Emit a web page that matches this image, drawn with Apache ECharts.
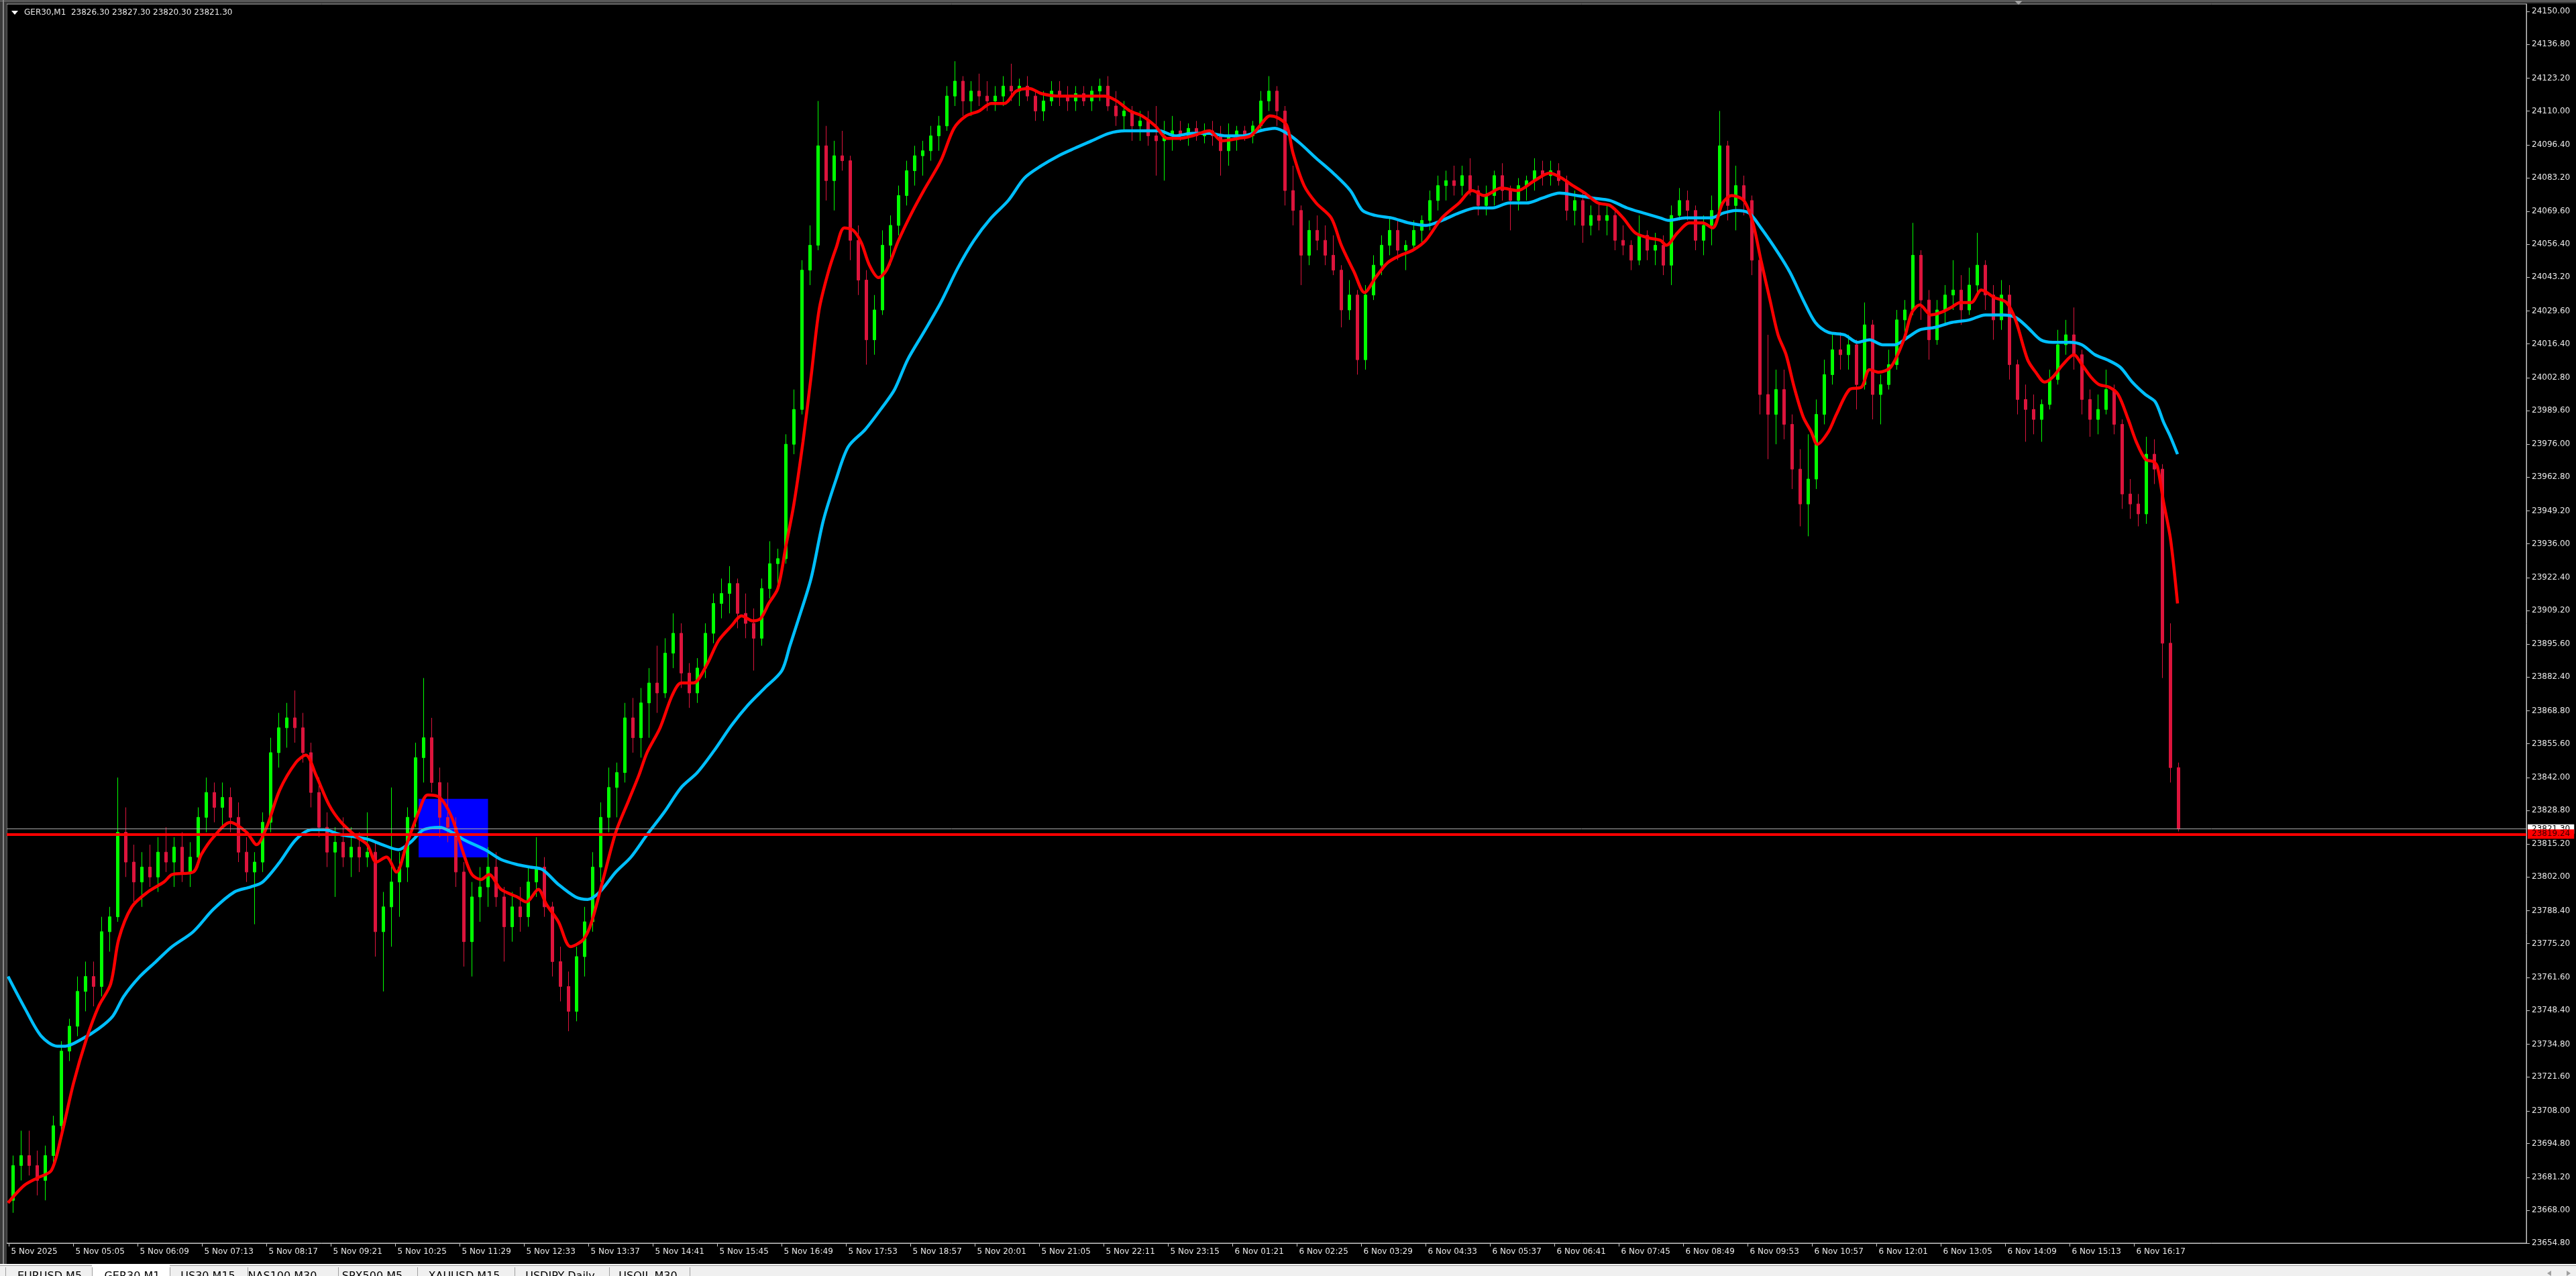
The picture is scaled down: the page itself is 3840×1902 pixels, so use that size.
<!DOCTYPE html>
<html><head><meta charset="utf-8">
<script src="https://cdn.jsdelivr.net/npm/echarts@6/dist/echarts.min.js"></script>
<style>html,body{margin:0;padding:0;background:#000;overflow:hidden}#c{width:3840px;height:1902px}</style>
</head><body><div id="c"></div>
<script>
// ---------------- DATA ----------------
const symbolName = 'GER30,M1';
const lastBar = [23826.30, 23827.30, 23820.30, 23821.30];
const timeLabels = ['5 Nov 2025','5 Nov 05:05','5 Nov 06:09','5 Nov 07:13','5 Nov 08:17','5 Nov 09:21','5 Nov 10:25','5 Nov 11:29','5 Nov 12:33','5 Nov 13:37','5 Nov 14:41','5 Nov 15:45','5 Nov 16:49','5 Nov 17:53','5 Nov 18:57','5 Nov 20:01','5 Nov 21:05','5 Nov 22:11','5 Nov 23:15','6 Nov 01:21','6 Nov 02:25','6 Nov 03:29','6 Nov 04:33','6 Nov 05:37','6 Nov 06:41','6 Nov 07:45','6 Nov 08:49','6 Nov 09:53','6 Nov 10:57','6 Nov 12:01','6 Nov 13:05','6 Nov 14:09','6 Nov 15:13','6 Nov 16:17'];
const barsPerTimeLabel = 64;
const yTickLabels = [24150.00,24136.80,24123.20,24110.00,24096.40,24083.20,24069.60,24056.40,24043.20,24029.60,24016.40,24002.80,23989.60,23976.00,23962.80,23949.20,23936.00,23922.40,23909.20,23895.60,23882.40,23868.80,23855.60,23842.00,23828.80,23815.20,23802.00,23788.40,23775.20,23761.60,23748.40,23734.80,23721.60,23708.00,23694.80,23681.20,23668.00,23654.80];
const barsPerCandle = 8;
// [open, high, low, close], one row per 8 one-minute bars
const candles = [
[23672,23690,23667,23686],[23686,23700,23680,23690],[23690,23700,23682,23686],[23686,23692,23674,23680],[23680,23694,23672,23690],[23690,23706,23686,23702],[23702,23736,23700,23732],[23732,23745,23728,23742],
[23742,23762,23738,23756],[23756,23768,23748,23762],[23762,23768,23750,23758],[23758,23786,23754,23780],[23780,23790,23772,23786],[23786,23842,23784,23820],[23820,23830,23802,23808],[23808,23815,23792,23800],
[23800,23812,23790,23806],[23806,23815,23798,23802],[23802,23818,23796,23812],[23812,23822,23804,23808],[23808,23818,23798,23814],[23814,23820,23800,23804],[23804,23816,23798,23810],[23810,23830,23806,23826],
[23826,23842,23820,23836],[23836,23840,23824,23830],[23830,23840,23822,23834],[23834,23838,23820,23826],[23826,23832,23808,23812],[23812,23818,23800,23804],[23804,23812,23783,23808],[23808,23828,23804,23824],
[23824,23858,23820,23852],[23852,23868,23846,23862],[23862,23872,23854,23866],[23866,23877,23856,23862],[23862,23868,23848,23852],[23852,23856,23830,23836],[23836,23842,23818,23822],[23822,23828,23806,23812],
[23812,23822,23794,23816],[23816,23826,23806,23810],[23810,23822,23802,23814],[23814,23820,23804,23810],[23810,23828,23806,23812],[23812,23816,23770,23780],[23780,23796,23756,23790],[23790,23838,23774,23800],
[23800,23812,23786,23806],[23806,23830,23800,23826],[23826,23856,23822,23850],[23850,23882,23840,23858],[23858,23866,23836,23840],[23840,23846,23818,23826],[23826,23840,23816,23822],[23822,23826,23798,23804],
[23804,23808,23766,23776],[23776,23800,23762,23794],[23794,23806,23784,23798],[23798,23814,23790,23806],[23806,23812,23790,23794],[23794,23798,23768,23782],[23782,23796,23776,23790],[23790,23798,23780,23786],
[23786,23806,23782,23800],[23800,23818,23794,23806],[23806,23810,23786,23790],[23790,23792,23762,23768],[23768,23774,23752,23758],[23758,23764,23740,23748],[23748,23774,23744,23770],[23770,23790,23762,23784],
[23784,23812,23780,23806],[23806,23832,23800,23826],[23826,23846,23820,23838],[23838,23848,23826,23844],[23844,23872,23840,23866],[23866,23874,23852,23858],[23858,23878,23850,23872],[23872,23886,23858,23880],
[23880,23895,23868,23876],[23876,23898,23874,23892],[23892,23908,23886,23900],[23900,23904,23878,23884],[23884,23888,23870,23876],[23876,23890,23872,23886],[23886,23904,23882,23900],[23900,23916,23896,23912],
[23912,23922,23906,23916],[23916,23927,23908,23920],[23920,23922,23902,23908],[23908,23916,23898,23904],[23904,23910,23885,23898],[23898,23922,23895,23918],[23918,23937,23914,23928],[23928,23934,23918,23930],
[23930,23980,23928,23976],[23976,23998,23972,23990],[23990,24050,23988,24046],[24046,24064,24040,24056],[24056,24114,24054,24096],[24096,24104,24074,24082],[24082,24098,24070,24092],[24092,24102,24086,24090],
[24090,24092,24050,24058],[24058,24064,24036,24042],[24042,24046,24008,24018],[24018,24036,24012,24030],[24030,24062,24028,24056],[24056,24068,24048,24064],[24064,24080,24060,24076],[24076,24090,24072,24086],
[24086,24096,24080,24092],[24092,24098,24084,24094],[24094,24104,24090,24100],[24100,24108,24094,24104],[24104,24120,24102,24116],[24116,24130,24112,24122],[24122,24124,24108,24114],[24114,24122,24108,24118],
[24118,24125,24112,24116],[24116,24122,24110,24114],[24114,24120,24110,24116],[24116,24124,24112,24120],[24120,24129,24114,24118],[24118,24123,24112,24120],[24120,24124,24114,24116],[24116,24118,24106,24110],
[24110,24118,24106,24114],[24114,24122,24112,24118],[24118,24122,24112,24116],[24116,24120,24110,24114],[24114,24120,24110,24117],[24117,24120,24112,24114],[24114,24120,24110,24118],[24118,24123,24114,24120],
[24120,24124,24110,24112],[24112,24118,24104,24108],[24108,24114,24102,24110],[24110,24112,24098,24104],[24104,24110,24098,24106],[24106,24110,24096,24100],[24100,24112,24084,24098],[24098,24106,24082,24100],
[24100,24108,24094,24102],[24102,24106,24098,24100],[24100,24105,24096,24103],[24103,24106,24098,24100],[24100,24105,24097,24102],[24102,24106,24096,24100],[24100,24104,24084,24094],[24094,24105,24088,24100],
[24100,24104,24094,24102],[24102,24104,24098,24100],[24100,24106,24097,24104],[24104,24118,24102,24114],[24114,24124,24110,24118],[24118,24120,24104,24110],[24110,24112,24072,24078],[24078,24088,24064,24070],
[24070,24072,24040,24052],[24052,24066,24048,24062],[24062,24068,24054,24058],[24058,24064,24048,24052],[24052,24060,24044,24046],[24046,24048,24023,24030],[24030,24042,24026,24036],[24036,24038,24004,24010],
[24010,24040,24006,24036],[24036,24052,24034,24048],[24048,24060,24044,24056],[24056,24067,24052,24062],[24062,24066,24050,24054],[24054,24058,24046,24056],[24056,24066,24054,24062],[24062,24068,24056,24066],
[24066,24078,24062,24074],[24074,24084,24070,24080],[24080,24086,24074,24082],[24082,24088,24076,24080],[24080,24088,24076,24084],[24084,24091,24076,24078],[24078,24080,24068,24072],[24072,24080,24068,24076],
[24076,24086,24072,24084],[24084,24089,24074,24078],[24078,24080,24062,24074],[24074,24083,24070,24080],[24080,24084,24074,24082],[24082,24091,24078,24086],[24086,24090,24080,24084],[24084,24090,24080,24086],
[24086,24089,24080,24082],[24082,24084,24066,24070],[24070,24078,24064,24074],[24074,24077,24057,24064],[24064,24072,24060,24068],[24068,24073,24062,24066],[24066,24072,24060,24068],[24068,24070,24054,24058],
[24058,24064,24052,24056],[24056,24058,24046,24050],[24050,24068,24048,24060],[24060,24062,24050,24054],[24054,24061,24048,24056],[24056,24060,24044,24048],[24048,24072,24040,24068],[24068,24079,24066,24074],
[24074,24078,24066,24070],[24070,24072,24054,24058],[24058,24068,24052,24064],[24064,24076,24056,24070],[24070,24110,24068,24096],[24096,24098,24066,24072],[24072,24088,24062,24080],[24080,24084,24068,24074],
[24074,24076,24044,24050],[24050,24052,23988,23996],[23996,24020,23970,23988],[23988,24006,23976,23998],[23998,24006,23978,23984],[23984,23988,23958,23966],[23966,23974,23943,23952],[23952,23980,23939,23962],
[23962,23994,23958,23988],[23988,24010,23984,24004],[24004,24021,24000,24014],[24014,24021,24006,24012],[24012,24020,24006,24016],[24016,24018,23990,24000],[24000,24033,23998,24024],[24024,24026,23986,23996],
[23996,24004,23984,24000],[24000,24014,23998,24008],[24008,24030,24006,24026],[24026,24034,24020,24030],[24030,24065,24028,24052],[24052,24054,24026,24034],[24034,24038,24010,24018],[24018,24034,24016,24030],
[24030,24040,24024,24036],[24036,24050,24030,24038],[24038,24044,24024,24030],[24030,24047,24028,24040],[24040,24061,24036,24048],[24048,24050,24030,24036],[24036,24040,24018,24026],[24026,24042,24022,24036],
[24036,24040,24002,24008],[24008,24010,23988,23994],[23994,24000,23977,23990],[23990,23996,23980,23986],[23986,23994,23977,23992],[23992,24006,23990,24002],[24002,24022,24000,24016],[24016,24026,24012,24020],
[24020,24031,24006,24012],[24012,24014,23988,23994],[23994,23998,23979,23986],[23986,23996,23980,23990],[23990,24006,23988,23998],[23998,24000,23980,23984],[23984,23986,23950,23956],[23956,23962,23946,23952],
[23952,23956,23943,23948],[23948,23979,23944,23972],[23972,23978,23960,23966],[23966,23968,23882,23896],[23896,23904,23840,23846],[23846,23848,23820.3,23821.3]
];
const fastMA = [[-1,23671],[15,23678],[28,23681],[42,23684],[52,23698],[64,23719],[77,23737],[89,23750],[101,23759],[109,23777],[122,23790],[138,23796],[154,23800],[162,23803],[183,23804],[191,23811],[203,23818],[220,23824],[236,23820],[246,23815],[256,23822],[269,23837],[285,23848],[295,23851],[305,23843],[318,23831],[330,23824],[346,23818],[356,23815],[365,23808],[375,23810],[385,23804],[395,23815],[407,23828],[416,23835],[428,23834],[440,23826],[452,23811],[460,23803],[469,23801],[477,23803],[489,23797],[505,23794],[514,23792],[526,23797],[534,23791],[546,23784],[558,23774],[571,23777],[579,23784],[591,23802],[603,23820],[616,23833],[626,23843],[634,23852],[647,23862],[659,23875],[668,23880],[680,23880],[693,23887],[705,23897],[718,23903],[728,23907],[739,23905],[747,23906],[755,23912],[764,23918],[772,23935],[780,23952],[789,23977],[797,24003],[805,24030],[814,24045],[822,24055],[830,24063],[839,24062],[847,24057],[855,24048],[864,24043],[872,24046],[884,24058],[897,24069],[909,24078],[926,24090],[939,24103],[951,24108],[964,24110],[976,24113],[989,24113],[1001,24118],[1014,24119],[1026,24117],[1043,24116],[1068,24116],[1089,24116],[1101,24114],[1114,24110],[1126,24108],[1139,24104],[1151,24099],[1164,24099],[1176,24100],[1193,24102],[1205,24098],[1222,24099],[1234,24100],[1243,24104],[1253,24108],[1262,24107],[1270,24104],[1276,24093],[1287,24080],[1299,24073],[1314,24067],[1324,24056],[1337,24045],[1347,24037],[1358,24043],[1370,24049],[1383,24052],[1395,24054],[1408,24058],[1424,24067],[1441,24073],[1454,24078],[1466,24076],[1483,24079],[1499,24078],[1516,24082],[1531,24085],[1543,24083],[1554,24080],[1566,24077],[1579,24073],[1591,24072],[1604,24067],[1616,24061],[1629,24059],[1641,24058],[1647,24056],[1658,24061],[1670,24065],[1683,24065],[1693,24063],[1703,24073],[1712,24076],[1724,24074],[1733,24065],[1741,24050],[1750,24034],[1758,24020],[1766,24012],[1774,23999],[1783,23987],[1791,23981],[1797,23976],[1808,23981],[1816,23988],[1829,23998],[1841,23999],[1849,24006],[1858,24005],[1870,24007],[1883,24018],[1891,24029],[1899,24032],[1910,24028],[1920,24029],[1930,24031],[1939,24033],[1950,24033],[1960,24038],[1973,24035],[1985,24033],[1994,24026],[2006,24010],[2014,24005],[2023,24001],[2031,24003],[2041,24008],[2052,24012],[2060,24008],[2069,24003],[2077,24000],[2087,23999],[2096,23996],[2106,23986],[2114,23977],[2123,23970],[2131,23969],[2135,23967],[2141,23953],[2148,23938],[2155,23912]];
const slowMA = [[-1,23762],[16,23749],[32,23738],[48,23734],[56,23734],[73,23737],[89,23741],[103,23746],[114,23754],[130,23762],[146,23768],[162,23774],[183,23780],[203,23789],[224,23796],[240,23798],[252,23800],[269,23808],[285,23817],[301,23821],[313,23821],[330,23819],[346,23818],[358,23817],[371,23815],[387,23813],[399,23816],[412,23821],[428,23822],[440,23820],[452,23817],[473,23813],[489,23809],[505,23807],[518,23806],[530,23805],[546,23799],[563,23794],[575,23793],[587,23796],[603,23804],[618,23810],[634,23819],[651,23828],[668,23838],[684,23844],[701,23853],[718,23863],[734,23871],[751,23878],[768,23885],[776,23895],[784,23905],[797,23922],[809,23945],[822,23962],[834,23975],[851,23982],[868,23991],[880,23998],[893,24010],[909,24021],[926,24033],[943,24047],[959,24058],[976,24067],[993,24074],[1009,24083],[1026,24088],[1043,24092],[1059,24095],[1076,24098],[1093,24101],[1109,24102],[1126,24102],[1143,24102],[1159,24100],[1176,24101],[1193,24101],[1209,24100],[1226,24100],[1243,24102],[1258,24103],[1270,24101],[1283,24097],[1299,24091],[1316,24085],[1333,24078],[1345,24070],[1358,24068],[1374,24067],[1391,24065],[1408,24064],[1424,24066],[1441,24069],[1458,24071],[1474,24071],[1491,24073],[1508,24073],[1524,24075],[1541,24077],[1558,24076],[1574,24075],[1591,24074],[1608,24071],[1624,24069],[1641,24067],[1649,24066],[1666,24067],[1691,24067],[1704,24069],[1716,24070],[1729,24069],[1741,24063],[1758,24053],[1770,24045],[1783,24034],[1795,24025],[1808,24021],[1824,24020],[1837,24017],[1849,24018],[1862,24016],[1874,24016],[1887,24019],[1899,24022],[1914,24023],[1931,24025],[1948,24026],[1964,24028],[1981,24028],[1994,24027],[2006,24023],[2019,24018],[2031,24017],[2048,24017],[2060,24016],[2073,24012],[2085,24010],[2098,24007],[2110,24001],[2123,23996],[2133,23993],[2141,23985],[2148,23979],[2155,23972]];
const bidPrice = 23821.30;
const hLinePrice = 23819.24;
const boxBars = [407, 476];
const boxPrices = [23833.4, 23809.9];
const tabNames = ['EURUSD,M5','GER30,M1','US30,M15','NAS100,M30','SPX500,M5','XAUUSD,M15','USDJPY,Daily','USOIL,M30'];
const activeTab = 'GER30,M1';

// ---------------- CHART ----------------
const FONT = 'DejaVu Sans';
const chart = echarts.init(document.getElementById('c'), null, {renderer: 'canvas', width: 3840, height: 1902});
const tickBars = timeLabels.map((_, i) => i * barsPerTimeLabel);
const candleData = candles.map((r, i) => [i * barsPerCandle + barsPerCandle / 2, r[0], r[3], r[2], r[1]]);

const tabCenters = [74, 197, 310, 421, 555, 692, 835, 966];
const tabSeps = [137, 253, 369, 504, 622, 767, 908, 1028];
const graphics = [
  {type:'rect', shape:{x:0, y:0, width:10, height:1884}, style:{fill:'#3a3a3a'}, z:50},
  {type:'rect', shape:{x:4, y:0, width:2, height:1884}, style:{fill:'#8a8a8a'}, z:51},
  {type:'rect', shape:{x:0, y:0, width:3840, height:5}, style:{fill:'#3a3a3a'}, z:50},
  {type:'rect', shape:{x:0, y:1, width:3840, height:1}, style:{fill:'#8a8a8a'}, z:51},
  {type:'polygon', shape:{points:[[3003,1],[3015,1],[3009,7]]}, style:{fill:'#a0a0a0'}, z:52},
  {type:'polygon', shape:{points:[[17,16],[27,16],[22,22]]}, style:{fill:'#ffffff'}, z:60},
  {type:'text', x:36, y:19, style:{text: symbolName + '  ' + lastBar.map(v => v.toFixed(2)).join(' '), fill:'#e6e6e6', font:'12px "DejaVu Sans"', align:'left', verticalAlign:'middle'}, z:60},
  {type:'rect', shape:{x:0, y:1884, width:3840, height:18}, style:{fill:'#f0f0f0'}, z:50},
  {type:'rect', shape:{x:0, y:1884, width:3840, height:1}, style:{fill:'#ffffff'}, z:51},
  {type:'rect', shape:{x:0, y:1886, width:3840, height:1}, style:{fill:'#a0a0a0'}, z:51},
  {type:'polygon', shape:{points:[[3803,1894],[3803,1902],[3797,1898]]}, style:{fill:'#a0a0a0'}, z:52},
  {type:'polygon', shape:{points:[[3826,1894],[3826,1902],[3832,1898]]}, style:{fill:'#a0a0a0'}, z:52}
];
tabNames.forEach((name, i) => {
  const left = i === 0 ? 8 : tabSeps[i - 1];
  const right = tabSeps[i];
  if (name === activeTab) {
    graphics.push({type:'rect', shape:{x:left, y:1885, width:right - left, height:17}, style:{fill:'#ffffff'}, z:52});
  }
  graphics.push({type:'rect', shape:{x:right, y:1889, width:1, height:13}, style:{fill:'#a0a0a0'}, z:53});
  graphics.push({type:'text', x:tabCenters[i], y:1903, style:{text:name, fill:'#000000', font:'16px "DejaVu Sans"', align:'center', verticalAlign:'middle'}, z:54});
});
graphics.push({type:'rect', shape:{x:8, y:1889, width:1, height:13}, style:{fill:'#a0a0a0'}, z:53});

const option = {
  backgroundColor: '#000000',
  animation: false,
  grid: {left: 10, right: 74, top: 6, bottom: 49, show: true, borderColor: '#c8c8c8', borderWidth: 1, containLabel: false, outerBoundsMode: 'none'},
  xAxis: {
    type: 'value', min: -2.333, max: 2501.667,
    splitLine: {show: false},
    axisLine: {show: true, onZero: false, lineStyle: {color: '#c8c8c8', width: 1}},
    axisTick: {show: true, customValues: tickBars, length: 5, lineStyle: {color: '#c8c8c8'}},
    axisLabel: {show: true, customValues: tickBars, formatter: v => timeLabels[Math.round(v / barsPerTimeLabel)] || '',
      color: '#e8e8e8', fontFamily: FONT, fontSize: 12, align: 'left', margin: 7, padding: [0, 0, 0, 3]}
  },
  yAxis: {
    type: 'value', position: 'right', min: 23654.8, max: 24153.0, scale: true,
    splitLine: {show: false},
    axisLine: {show: true, onZero: false, lineStyle: {color: '#c8c8c8', width: 1}},
    axisTick: {show: true, customValues: yTickLabels, length: 5, lineStyle: {color: '#c8c8c8'}},
    axisLabel: {show: true, customValues: yTickLabels, formatter: v => Number(v).toFixed(2),
      color: '#e8e8e8', fontFamily: FONT, fontSize: 12, margin: 8}
  },
  series: [
    {
      type: 'candlestick', name: 'GER30', z: 2, barWidth: 5, data: candleData, silent: true,
      itemStyle: {color: '#00ff00', color0: '#dc143c', borderColor: '#00ff00', borderColor0: '#dc143c', borderWidth: 1},
      markArea: {silent: true, z: 1, itemStyle: {color: '#0000ff', opacity: 1, borderWidth: 0},
        data: [[{coord: [boxBars[0], boxPrices[0]]}, {coord: [boxBars[1], boxPrices[1]]}]]}
    },
    {
      type: 'line', name: 'slowMA', z: 3, data: slowMA, smooth: 0.3, showSymbol: false, silent: true,
      lineStyle: {color: '#00bfff', width: 4.5}
    },
    {
      type: 'line', name: 'fastMA', z: 4, data: fastMA, smooth: 0.3, showSymbol: false, silent: true,
      lineStyle: {color: '#ff0000', width: 4.5},
      markLine: {
        silent: true, symbol: ['none', 'none'], z: 6, animation: false,
        data: [
          {yAxis: bidPrice, lineStyle: {color: '#a8a8a8', width: 1, type: 'solid'},
            label: {show: true, position: 'end', distance: 2, formatter: p => Number(p.value).toFixed(2), backgroundColor: '#ffffff', color: '#000000', fontFamily: FONT, fontSize: 12, padding: [1, 6, 1, 6]}},
          {yAxis: hLinePrice, lineStyle: {color: '#ff0000', width: 4, type: 'solid'},
            label: {show: true, position: 'end', distance: 2, formatter: p => Number(p.value).toFixed(2), backgroundColor: '#ff0000', color: '#3a0000', fontFamily: FONT, fontSize: 12, padding: [1, 6, 1, 6]}}
        ]
      }
    }
  ],
  graphic: graphics
};
chart.setOption(option);
</script>
</body></html>
